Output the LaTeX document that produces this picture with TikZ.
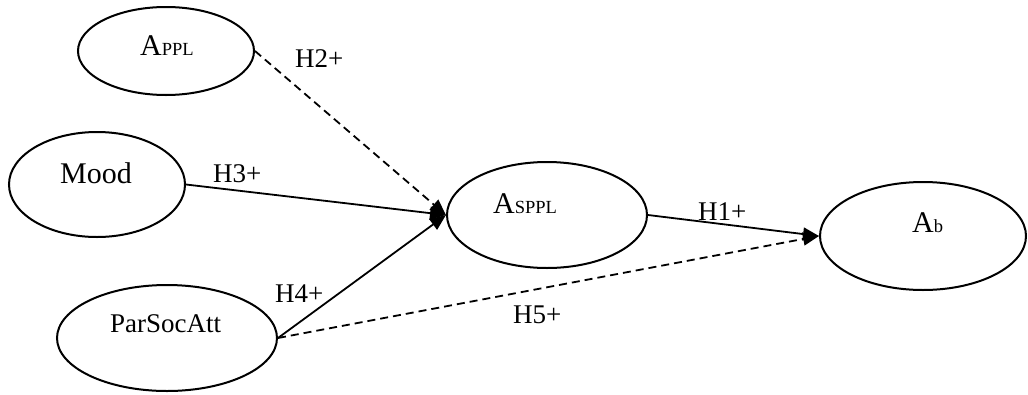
\documentclass[tikz,border=0pt]{standalone}
\usepackage{fontspec}
\setmainfont{Liberation Serif}
\usetikzlibrary{shapes.geometric,arrows.meta}
\tikzset{
  latent/.style={draw=black,line width=2pt,ellipse,inner sep=0pt,fill=white},
  lbl/.style={anchor=base west,inner sep=0pt,font=\fontsize{27}{30}\selectfont},
  big/.style={anchor=base west,inner sep=0pt,font=\fontsize{30}{33}\selectfont},
  path/.style={line width=1.8pt,-{Triangle[length=16pt,width=13pt]}},
  dpath/.style={path,dash pattern=on 8pt off 5pt},
}
\newcommand{\sub}[1]{{\fontsize{18.5}{20}\selectfont #1}}
\begin{document}
\begin{tikzpicture}[x=1pt,y=-1pt]
\useasboundingbox (0,0) rectangle (1028,394);
\node[latent,minimum width=176pt,minimum height=88pt] (appl) at (166,51) {};
\node[latent,minimum width=176pt,minimum height=105pt] (mood) at (97,184.5) {};
\node[latent,minimum width=220pt,minimum height=106pt] (psa) at (167,338) {};
\node[latent,minimum width=200pt,minimum height=106pt] (asppl) at (547,215) {};
\node[latent,minimum width=206pt,minimum height=108pt] (ab) at (923,236) {};
\node[big] (tappl) at (140,55) {A\sub{PPL}};
\node[big] (tmood) at (60,183) {Mood};
\node[lbl] (tpsa) at (110,332) {ParSocAtt};
\node[big] (tasppl) at (493,213) {A\sub{SPPL}};
\node[big] (tab) at (912,232) {A\sub{b}};
\draw[dpath] (appl.east) -- (asppl.west);
\draw[path] (mood.east) -- (asppl.west);
\draw[path] (psa.east) -- (asppl.west);
\draw[path] (asppl.east) -- (ab.west);
\draw[dpath] (psa.east) -- (ab.west);
\node[lbl] (h2) at (295,67) {H2+};
\node[lbl] (h3) at (213,182) {H3+};
\node[lbl] (h4) at (275,302) {H4+};
\node[lbl] (h5) at (513,323) {H5+};
\node[lbl] (h1) at (698,220) {H1+};
\end{tikzpicture}
\end{document}
